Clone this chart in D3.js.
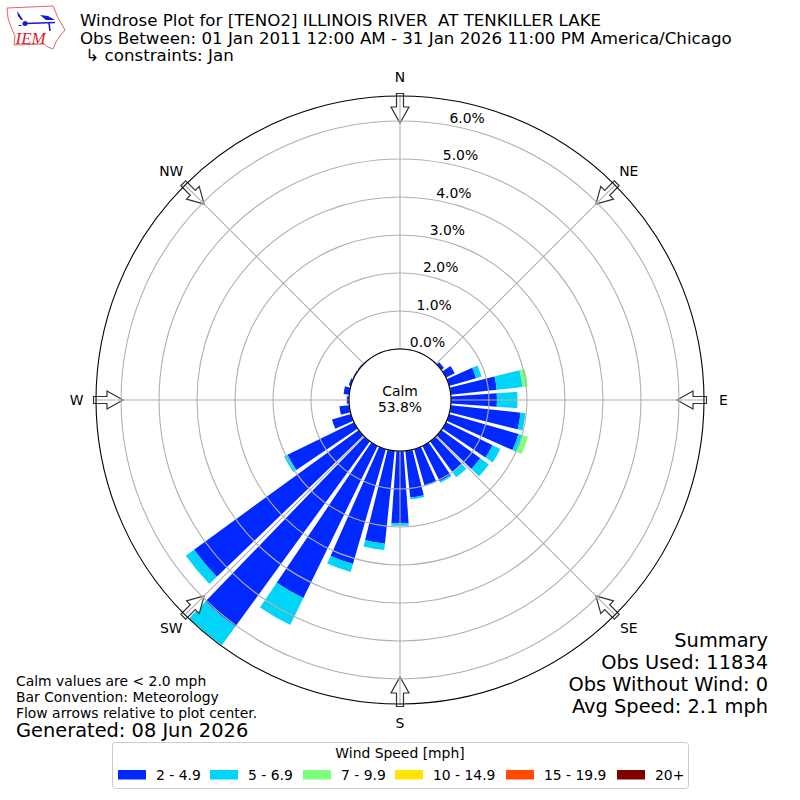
<!DOCTYPE html>
<html>
<head>
<meta charset="utf-8">
<script src="https://cdn.jsdelivr.net/npm/d3@7"></script>
<style>
  body { margin: 0; background: #fff; }
  text { font-family: "DejaVu Sans", sans-serif; fill: #000; }
</style>
</head>
<body>
<svg id="windrose" width="800" height="800"></svg>
<script>
// percent of obs per direction, N going clockwise every 10 degrees
const directions = d3.range(36).map(i => i * 10);
const speed2 = [0.01, 0.01, 0.01, 0.01, 0.02, 0.09, 0.26, 0.74, 1.22, 1.21, 1.85, 1.90,
  1.37, 1.27, 1.00, 1.04, 1.00, 1.24, 1.90, 2.46, 3.15, 4.46, 6.03, 5.36,
  1.95, 0.52, 0.26, 0.06, 0.15, 0.06, 0.03, 0.03, 0.02, 0.01, 0.01, 0.005];
const speed5 = [0, 0, 0, 0, 0, 0, 0, 0.15, 0.68, 0.54, 0.13, 0.12,
  0.23, 0.28, 0.17, 0.04, 0.02, 0.05, 0.07, 0.17, 0.22, 0.79, 0.61, 0.27,
  0.10, 0, 0, 0, 0, 0, 0, 0, 0, 0, 0, 0];
const speed7 = [0, 0, 0, 0, 0, 0, 0, 0, 0.14, 0, 0, 0.14,
  0, 0, 0, 0, 0, 0, 0, 0, 0, 0, 0, 0,
  0, 0, 0, 0, 0, 0, 0, 0, 0, 0, 0, 0];

const binLabels = ['2 - 4.9', '5 - 6.9', '7 - 9.9', '10 - 14.9', '15 - 19.9', '20+'];
const binColors = ['#0028ff', '#00d5f7', '#7cff79', '#ffe500', '#ff4a00', '#800000'];
const ringTicks = [0, 1, 2, 3, 4, 5, 6];
const compass = [['N', 0], ['NE', 45], ['E', 90], ['SE', 135], ['S', 180], ['SW', 225], ['W', 270], ['NW', 315]];
const titleLines = ['Windrose Plot for [TENO2] ILLINOIS RIVER\u00a0\u00a0AT TENKILLER LAKE',
  'Obs Between: 01 Jan 2011 12:00 AM - 31 Jan 2026 11:00 PM America/Chicago',
  '\u00a0\u21b3 constraints: Jan'];
const summaryLines = ['Summary', 'Obs Used: 11834', 'Obs Without Wind: 0', 'Avg Speed: 2.1 mph'];
const noteLines = ['Calm values are < 2.0 mph', 'Bar Convention: Meteorology', 'Flow arrows relative to plot center.'];

const svg = d3.select('#windrose');
const cx = 400, cy = 400;
const rad = d => d * Math.PI / 180;

const r = d3.scaleLinear().domain([0, 6.66]).range([51, 304]);

const rows = directions.map((d, i) => ({ dir: d, a: speed2[i], b: speed5[i], c: speed7[i] }));
const stacked = d3.stack().keys(['a', 'b', 'c'])(rows);

const plot = svg.append('g').attr('transform', `translate(${cx},${cy})`);

// bars sit under the grid
const arc = d3.arc()
  .startAngle(d => rad(d.data.dir - 4))
  .endAngle(d => rad(d.data.dir + 4))
  .innerRadius(d => r(d[0]))
  .outerRadius(d => r(d[1]));

plot.selectAll('g.bin')
  .data(stacked)
  .join('g')
  .attr('class', 'bin')
  .attr('fill', (d, i) => binColors[i])
  .selectAll('path')
  .data(d => d.filter(v => v[1] > v[0]))
  .join('path')
  .attr('d', arc);

// direction arrows
plot.selectAll('path.arrow')
  .data(compass)
  .join('path')
  .attr('class', 'arrow')
  .attr('transform', d => `rotate(${d[1]})`)
  .attr('d', 'M-3.5,-306.5 L3.5,-306.5 L3.5,-293 L9,-293 L0,-277 L-9,-293 L-3.5,-293 Z')
  .attr('fill', '#fff')
  .attr('stroke', '#333')
  .attr('stroke-width', 1.2)
  .attr('stroke-linejoin', 'miter');

// grid
plot.selectAll('line.spoke')
  .data(compass)
  .join('line')
  .attr('class', 'spoke')
  .attr('x1', d => r(0) * Math.sin(rad(d[1])))
  .attr('y1', d => -r(0) * Math.cos(rad(d[1])))
  .attr('x2', d => r.range()[1] * Math.sin(rad(d[1])))
  .attr('y2', d => -r.range()[1] * Math.cos(rad(d[1])))
  .attr('stroke', '#b0b0b0')
  .attr('stroke-width', 1.1);

plot.selectAll('circle.ring')
  .data(ringTicks)
  .join('circle')
  .attr('class', 'ring')
  .attr('r', d => r(d))
  .attr('fill', 'none')
  .attr('stroke', '#b0b0b0')
  .attr('stroke-width', 1.1);

// outer frame and calm circle
plot.append('circle')
  .attr('r', r.range()[1])
  .attr('fill', 'none')
  .attr('stroke', '#000')
  .attr('stroke-width', 1.1);

plot.append('circle')
  .attr('r', r(0))
  .attr('fill', '#fff')
  .attr('stroke', '#000')
  .attr('stroke-width', 1.2);

plot.append('text')
  .attr('text-anchor', 'middle')
  .attr('y', -4)
  .style('font-size', '13.9px')
  .text('Calm');
plot.append('text')
  .attr('text-anchor', 'middle')
  .attr('y', 12)
  .style('font-size', '13.9px')
  .text('53.8%');

// ring labels
plot.selectAll('text.tick')
  .data(ringTicks)
  .join('text')
  .attr('class', 'tick')
  .attr('x', d => r(d) * Math.sin(rad(10)) + 1)
  .attr('y', d => -r(d) * Math.cos(rad(10)) - 2.5)
  .style('font-size', '13.9px')
  .text(d => d.toFixed(1) + '%');

// compass labels
plot.selectAll('text.compass')
  .data(compass)
  .join('text')
  .attr('class', 'compass')
  .attr('text-anchor', 'middle')
  .attr('x', d => 323.5 * Math.sin(rad(d[1])))
  .attr('y', d => -323 * Math.cos(rad(d[1])) + 4.5)
  .style('font-size', '13.9px')
  .text(d => d[0]);

// header
svg.selectAll('text.title')
  .data(titleLines)
  .join('text')
  .attr('class', 'title')
  .attr('x', 80)
  .attr('y', (d, i) => 26 + i * 17.5)
  .style('font-size', '16.67px')
  .text(d => d);

// summary, lower right
svg.selectAll('text.summary')
  .data(summaryLines)
  .join('text')
  .attr('class', 'summary')
  .attr('text-anchor', 'end')
  .attr('x', 768)
  .attr('y', (d, i) => 647 + i * 22)
  .style('font-size', '19.4px')
  .text(d => d);

// notes, lower left
svg.selectAll('text.note')
  .data(noteLines)
  .join('text')
  .attr('class', 'note')
  .attr('x', 16)
  .attr('y', (d, i) => 686 + i * 16)
  .style('font-size', '13.9px')
  .text(d => d);

svg.append('text')
  .attr('x', 16)
  .attr('y', 737)
  .style('font-size', '19.4px')
  .text('Generated: 08 Jun 2026');

// legend
const legend = svg.append('g');
legend.append('rect')
  .attr('x', 112.5).attr('y', 742.5)
  .attr('width', 576).attr('height', 46)
  .attr('rx', 3)
  .attr('fill', '#fff')
  .attr('stroke', '#ccc');
legend.append('text')
  .attr('x', 400).attr('y', 758)
  .attr('text-anchor', 'middle')
  .style('font-size', '13.9px')
  .text('Wind Speed [mph]');

const swatchX = [118, 210, 303, 395, 506, 617];
const item = legend.selectAll('g.item')
  .data(binLabels)
  .join('g')
  .attr('class', 'item')
  .attr('transform', (d, i) => `translate(${swatchX[i]},770)`);
item.append('rect')
  .attr('width', 28).attr('height', 9.5)
  .attr('fill', (d, i) => binColors[i]);
item.append('text')
  .attr('x', 38).attr('y', 10)
  .style('font-size', '13.9px')
  .text(d => d);

// IEM logo
const logo = svg.append('g');
logo.append('path')
  .attr('d', 'M7,8 L53,6 L56,13 L58,18 L65,30 L60,36 L56,42 L53,49 L48,47 L44,44 L14,45 L15,36 L11,27 L8,18 Z')
  .attr('fill', '#fff')
  .attr('stroke', '#e06666')
  .attr('stroke-width', 1);
logo.append('path')
  .attr('d', 'M25,23.5 L55,22.5 M49,23 L50,31')
  .attr('fill', 'none')
  .attr('stroke', '#1a1ad0')
  .attr('stroke-width', 1.6);
logo.append('path')
  .attr('d', 'M40,15 L48,16 L55,20 L46,20 Z M17,11 L20,15 L23,20 L21,20 L18,16 Z M19,25 L21,25 L22,26 L18,26 Z')
  .attr('fill', '#1a1ad0');
logo.append('circle')
  .attr('cx', 25).attr('cy', 23.5).attr('r', 2.5)
  .attr('fill', '#1a1ad0');
logo.append('text')
  .attr('x', 15.5).attr('y', 44)
  .style('font-family', '"Liberation Serif", serif')
  .style('font-style', 'italic')
  .style('font-size', '17px')
  .style('fill', '#d8232a')
  .text('IEM');
</script>
</body>
</html>
